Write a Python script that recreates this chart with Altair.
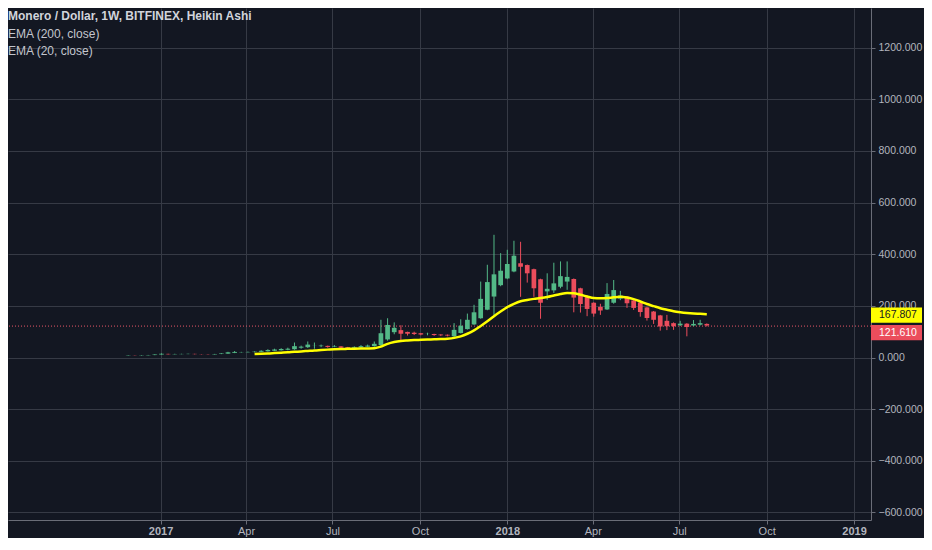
import altair as alt
import pandas as pd

# ---------------- data ----------------
FIRST_WEEK = "2016-11-28"          # weekly Heikin Ashi candles, Monday starts
opens = [7, 8, 7.5, 8.5, 9.5, 11.5, 14, 12.5, 13, 13.3, 14, 13, 12.5, 12, 13.5, 15, 18, 20, 20.3, 21,
         22, 24, 26, 28, 30, 32, 38, 40, 44.5, 44, 45, 42, 43, 40, 38, 39, 42, 44, 48, 70,
         98, 106, 99, 96, 94, 91, 91, 89, 88, 82, 95, 110, 128, 152, 185, 236, 280, 306, 333, 365,
         358, 342, 303, 256, 260, 274, 294, 304, 268, 238, 212, 196, 186, 212, 228, 236, 221, 213, 194, 178,
         163, 142, 133, 125, 131, 124, 127, 130]
closes = [8, 7.5, 8.5, 9.5, 11.5, 14.5, 12.5, 13.5, 13.8, 14, 13, 12.5, 12, 13.5, 15.5, 20, 21.5, 20.8, 21.5, 22.5,
          26, 29, 31, 33, 34, 44, 42, 50, 45, 46, 41, 44, 38, 37, 41, 44, 46, 53, 94, 126,
          115, 92, 92, 91, 89, 91.5, 87, 86, 85, 107, 123, 146, 175, 227, 292, 322, 336, 362, 394, 351,
          326, 268, 212, 266, 287, 315, 312, 232, 207, 188, 170, 182, 246, 261, 240, 210, 192, 176, 153, 146,
          120, 121, 121, 131, 118, 130, 133, 124]
highs = [8.5, 8.5, 9, 10, 12.5, 16, 14.5, 14.5, 14.5, 15, 14.5, 13.5, 13, 14, 17, 22, 25, 22, 23, 24,
         28, 32, 34, 36, 38, 58, 46, 62, 58, 50, 46, 48, 44, 41, 43, 48, 50, 62, 146, 152,
         136, 125, 100, 100, 95, 96, 92, 90, 89, 133, 148, 170, 204, 294, 359, 475, 404, 417, 452, 448,
         360, 344, 305, 326, 367, 372, 372, 306, 270, 240, 214, 208, 288, 300, 258, 238, 223, 215, 196, 180,
         165, 165, 136, 142, 133, 145, 146, 132]
lows = [6.5, 7, 7, 8, 9, 11, 11.5, 12, 12.5, 12.8, 12, 11.8, 11, 11.5, 13, 14.5, 17, 19, 19.5, 20,
        21, 23, 25, 27, 28, 30, 34, 37, 34, 40, 38, 40, 35, 34, 35, 37, 40, 42, 45, 65,
        90, 66, 85, 87, 86, 86, 84, 83, 82, 80, 93, 108, 126, 150, 183, 157, 276, 303, 330, 235,
        290, 235, 150, 223, 250, 268, 262, 175, 174, 160, 158, 165, 184, 208, 222, 192, 184, 158, 143, 130,
        104, 106, 107, 122, 82, 121, 124, 120]

EMA_START = 19                     # EMA (20, close) begins at the 20th candle
ema20 = [14, 14.5, 15.5, 17, 18.5, 20, 22, 23.5, 25.5, 27.5, 29, 30.5, 32, 33, 33.5, 34, 34.5, 35, 36,
         42, 53, 60, 64, 66, 67.5, 68.5, 69.5, 70.5, 71.5, 73, 76, 82, 92, 105, 122, 140, 160, 178, 195,
         208, 218, 223, 227, 230, 234, 240, 246, 250, 249, 243, 236, 230, 229, 230, 233, 235, 232, 226,
         217, 207, 199, 191, 185, 179, 175, 172, 170, 169, 167.807]

LAST_PRICE = 121.61
EMA_LAST = 167.807
y_ticks = [-600, -400, -200, 0, 200, 400, 600, 800, 1000, 1200]
x_ticks = [(2017, 1), (2017, 4), (2017, 7), (2017, 10), (2018, 1), (2018, 4), (2018, 7), (2018, 10), (2019, 1)]
legend_lines = ["Monero / Dollar, 1W, BITFINEX, Heikin Ashi", "EMA (200, close)", "EMA (20, close)"]

# ---------------- tables ----------------
dates = pd.date_range(FIRST_WEEK, periods=len(opens), freq="7D")
date_str = [d.strftime("%Y-%m-%dT00:00:00Z") for d in dates]
candles = pd.DataFrame({"date": date_str, "open": opens, "close": closes, "high": highs, "low": lows})
candles["dir"] = ["up" if c >= o else "down" for o, c in zip(opens, closes)]
ema_df = pd.DataFrame({"date": date_str[EMA_START:EMA_START + len(ema20)], "ema": ema20})

# ---------------- style ----------------
BG = "#131722"
GRID = "#363a45"
AXIS = "#6a6d78"
LABEL = "#b2b5be"
UP = "#53b987"
DOWN = "#eb4d5c"
YELLOW = "#ffff00"
FONT = "Liberation Sans"

x_scale = alt.Scale(type="utc", padding=0,
                    domain=[alt.DateTime(year=2016, month=7, date=24, hours=11, utc=True),
                            alt.DateTime(year=2019, month=1, date=18, hours=20, utc=True)])
y_scale = alt.Scale(domain=[-629.1, 1353.1], nice=False, zero=False)
color_scale = alt.Scale(domain=["up", "down"], range=[UP, DOWN])

x_axis = alt.Axis(
    values=[alt.DateTime(year=y, month=m, date=1, utc=True) for y, m in x_ticks],
    labelExpr="utcmonth(datum.value) === 0 ? utcFormat(datum.value, '%Y') : utcFormat(datum.value, '%b')",
    labelFontWeight={"condition": {"test": "utcmonth(datum.value) === 0", "value": "bold"}, "value": "normal"},
    grid=True, gridColor=GRID, gridWidth=1,
    domainColor=AXIS, tickColor=AXIS, tickSize=4, labelPadding=1,
    labelColor=LABEL, labelFontSize=11, labelFont=FONT,
    labelOverlap=False, labelFlush=False, title=None)
y_axis = alt.Axis(
    orient="right", values=y_ticks, format=".3f",
    grid=True, gridColor=GRID, gridWidth=1,
    domainColor=AXIS, tickColor=AXIS, tickSize=4, labelPadding=3,
    labelColor=LABEL, labelFontSize=10.5, labelFont=FONT,
    labelOverlap=False, labelFlush=False, title=None)

price_line = alt.Chart(pd.DataFrame({"p": [LAST_PRICE]})).mark_rule(
    color="#e65768", strokeDash=[1, 2], strokeWidth=1
).encode(y=alt.Y("p:Q", scale=y_scale))

wicks = alt.Chart(candles).mark_rule(strokeWidth=1).encode(
    x=alt.X("date:T", scale=x_scale, axis=x_axis),
    y=alt.Y("low:Q", scale=y_scale, axis=y_axis),
    y2="high:Q",
    color=alt.Color("dir:N", scale=color_scale, legend=None),
)

bodies = alt.Chart(candles).mark_bar(size=4.7).encode(
    x=alt.X("date:T", scale=x_scale),
    y=alt.Y("open:Q", scale=y_scale),
    y2="close:Q",
    color=alt.Color("dir:N", scale=color_scale, legend=None),
)

ema_line = alt.Chart(ema_df).mark_line(color=YELLOW, strokeWidth=2.5, interpolate="monotone").encode(
    x=alt.X("date:T", scale=x_scale),
    y=alt.Y("ema:Q", scale=y_scale),
)

BOX_PATH = "M-1,-0.3H1V0.3H-1Z"


def price_tag(value, fill, text_color, offset):
    d = pd.DataFrame({"v": [value], "label": [f"{value:.3f}"]})
    box = alt.Chart(d).mark_point(shape=BOX_PATH, filled=True, size=2601, opacity=1,
                                  color=fill, strokeWidth=0, yOffset=offset).encode(
        x=alt.value(888.5), y=alt.Y("v:Q", scale=y_scale))
    txt = alt.Chart(d).mark_text(align="left", baseline="middle", fontSize=10.5, font=FONT,
                                 color=text_color, yOffset=offset).encode(
        x=alt.value(871), y=alt.Y("v:Q", scale=y_scale), text="label:N")
    return box + txt


ema_tag = price_tag(EMA_LAST, YELLOW, "#131722", 1)
last_tag = price_tag(LAST_PRICE, DOWN, "#ffffff", 6.5)

legend_layers = []
for k, line in enumerate(legend_lines):
    legend_layers.append(
        alt.Chart(pd.DataFrame({"t": [line]})).mark_text(
            align="left", baseline="middle", fontSize=12, font=FONT,
            fontWeight="bold" if k == 0 else "normal",
            color="#d1d4dc" if k == 0 else "#c3c6ce",
        ).encode(x=alt.value(0), y=alt.value([8, 25.5, 43][k]), text="t:N")
    )

chart = alt.layer(price_line, wicks, bodies, ema_line, ema_tag, last_tag, *legend_layers).properties(
    width=863, height=512,
    autosize=alt.AutoSizeParams(type="none"),
    padding={"left": 0, "top": 0, "right": 53, "bottom": 18},
    background=BG,
).configure_view(stroke="transparent")

chart.save("out.html", embed_options={"renderer": "svg", "actions": False})
